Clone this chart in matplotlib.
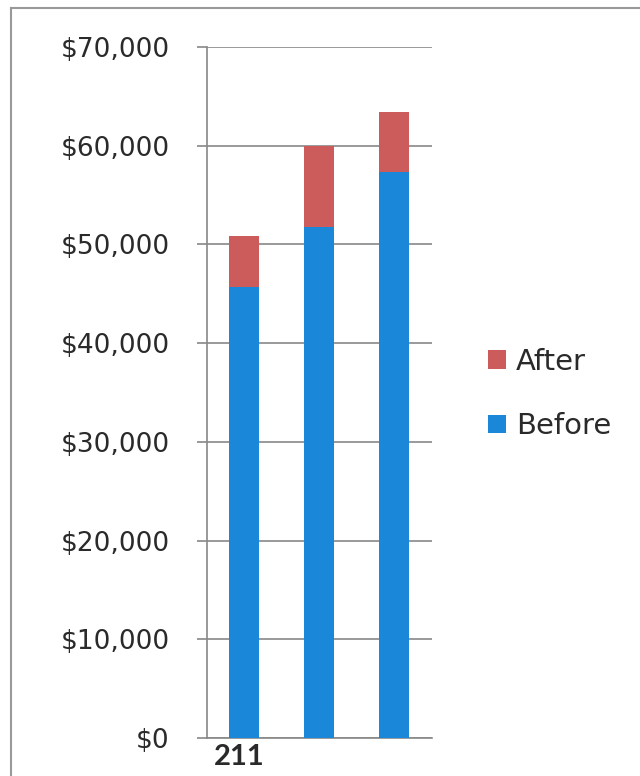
import numpy as np
import matplotlib.pyplot as plt
from matplotlib.lines import Line2D

plt.rcParams['font.family'] = ['DejaVu Sans']

categories = ['211', '', '']
before = [45700, 51800, 57300]
after = [5200, 8200, 6100]
yticks = [0, 10000, 20000, 30000, 40000, 50000, 60000, 70000]

BLUE = '#1a87d8'
RED = '#cc5b5b'
GRID = '#888888'
TEXT = '#2a2a2a'

fig = plt.figure(figsize=(6.4, 7.76), dpi=100)
ax = fig.add_axes([0.3234, 0.049, 0.3516, 0.8904])

x = np.arange(len(categories))
b1 = ax.bar(x, before, width=0.4, color=BLUE, label='Before', zorder=3)
b2 = ax.bar(x, after, width=0.4, bottom=before, color=RED, label='After', zorder=3)

ax.set_xlim(-0.5, 2.5)
ax.set_ylim(0, 70000)
ax.set_yticks(yticks)
ax.set_yticklabels(['${:,}'.format(v) for v in yticks], fontsize=19, color=TEXT)
ax.set_xticks(x - 0.073)
ax.set_xticklabels(categories, fontsize=21, fontweight='bold', color=TEXT,
                   family='Lato')
ax.tick_params(axis='x', length=0, pad=4)
ax.tick_params(axis='y', length=7, width=1.2, color=GRID, pad=20)

ax.grid(axis='y', color=GRID, linewidth=1.2, zorder=0)
for side in ['top', 'right']:
    ax.spines[side].set_visible(False)
ax.spines['left'].set_color(GRID)
ax.spines['left'].set_linewidth(1.2)
ax.spines['bottom'].set_color(GRID)
ax.spines['bottom'].set_linewidth(1.2)

ax.legend([b2, b1], ['After', 'Before'], loc='center left',
          bbox_to_anchor=(0.7625, 0.4923), bbox_transform=fig.transFigure,
          frameon=False, fontsize=21, handlelength=0.6, handleheight=0.6,
          handletextpad=0.35, labelspacing=1.25, borderpad=0,
          borderaxespad=0, labelcolor=TEXT)

# outer frame (top and left edges only)
fig.add_artist(Line2D([0.017, 0.017], [0.0, 0.99], transform=fig.transFigure,
                      color='#999999', linewidth=1.5))
fig.add_artist(Line2D([0.017, 1.0], [0.99, 0.99], transform=fig.transFigure,
                      color='#999999', linewidth=1.5))

fig.savefig('out.png', dpi=100)
